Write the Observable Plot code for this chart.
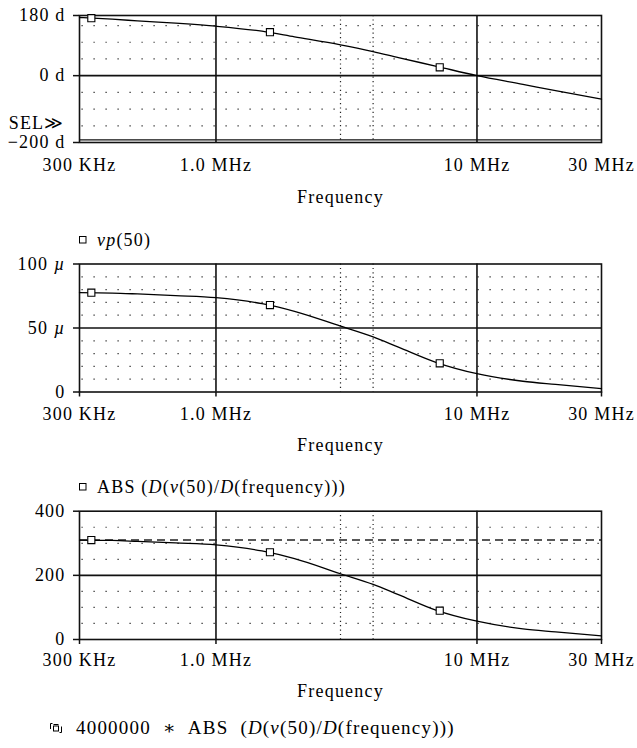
<!DOCTYPE html>
<html>
<head>
<meta charset="utf-8">
<script src="https://cdn.jsdelivr.net/npm/d3@7"></script>
<script src="https://cdn.jsdelivr.net/npm/@observablehq/plot@0.6"></script>
<style>
  html, body { margin: 0; padding: 0; background: #fff; }
  #root { position: relative; width: 637px; height: 748px; font-family: "Liberation Serif", "Times New Roman", "DejaVu Serif", serif; font-size: 18px; letter-spacing: 1.2px; color: #000; }
  .panel { position: absolute; left: 0; }
  .legend { position: absolute; height: 20px; line-height: 20px; white-space: nowrap; display: flex; align-items: center; }
  .legend svg { display: block; }
</style>
</head>
<body>
<div id="root">
  <div class="panel" id="p1" style="top:0px"></div>
  <div class="legend" style="top:230px;left:78px"><svg width="10" height="10"><rect x="1.5" y="1.5" width="6.5" height="6.5" fill="none" stroke="#000" stroke-width="1"/></svg><span style="margin-left:9px"><i>vp</i>(50)</span></div>
  <div class="panel" id="p2" style="top:250px"></div>
  <div class="legend" style="top:477px;left:78px"><svg width="10" height="10"><rect x="1.5" y="1.5" width="6.5" height="6.5" fill="none" stroke="#000" stroke-width="1"/></svg><span style="margin-left:9px">ABS (<i>D</i>(<i>v</i>(50)/<i>D</i>(frequency)))</span></div>
  <div class="panel" id="p3" style="top:497px"></div>
  <div class="legend" style="top:718px;left:49px"><svg width="14" height="12"><path d="M1.5,7 V1.5 H3.5 M12.5,4.5 V10.5 H10.5" fill="none" stroke="#000" stroke-width="1"/><rect x="4.5" y="4" width="5" height="5" fill="none" stroke="#000" stroke-width="1"/><path d="M4.5,2.5 H9.5" stroke="#000" stroke-width="1"/></svg><span style="margin-left:13px;font-size:19px;word-spacing:6px">4000000 ∗ ABS (<i>D</i>(<i>v</i>(50)/<i>D</i>(frequency)))</span></div>
</div>
<script>
// ---------- data ----------
const freqs = [3e5, 4e5, 5e5, 7e5, 1e6, 1.5e6, 2e6, 3e6, 4e6, 5e6, 7e6, 1e7, 1.5e7, 2e7, 3e7];
const phaseDeg = [174, 169, 164, 157, 148, 133, 116, 92, 72, 54, 28, 0, -26, -45, -70];
const vpMicro = [77.6, 77.3, 76.6, 75.3, 73.7, 69, 63, 51.4, 43, 35, 23, 14.3, 8.4, 5.9, 2.7];
const absDeriv = [310, 309, 306, 301, 295, 276, 252, 205, 172, 140, 91, 57, 33, 23.5, 11];

const markerFreqs = [3.33e5, 1.61e6, 7.2e6];
const phaseMarkers = [172, 130, 25];
const vpMarkers = [77.6, 67.9, 22.4];
const absMarkers = [310, 272, 90];

const dashedLevel = [310]; // 4000000 * ABS(...) trace

const xTickFreqs = [3e5, 1e6, 1e7, 3e7];
const xTickLabels = ["300 KHz", "1.0 MHz", "10 MHz", "30 MHz"];
const xMajorGrid = [1e6, 1e7];
const xCursorLines = [3e6, 4e6];
const xLabelAt = 3e6;

const phaseTicks = [180, 0, -200];
const phaseTickLabels = ["180 d", "0 d", "\u2212200 d"];
const phaseMinor = [150, 100, 50, -50, -100, -150];
const phaseMajor = [0];
const phaseSelLine = [-192];

const vpTicks = [100, 50, 0];
const vpTickLabels = ["100 µ", "50 µ", "0"];
const vpMinor = [90, 80, 70, 60, 40, 30, 20, 10];
const vpMajor = [50];

const absTicks = [400, 200, 0];
const absTickLabels = ["400", "200", "0"];
const absMinor = [350, 300, 250, 150, 100, 50];
const absMajor = [200];

// ---------- helpers ----------
const FONT = '"Liberation Serif", "Times New Roman", "DejaVu Serif", serif';
const rows = (vals, ys) => vals.map((x, i) => ({x, y: ys[i]}));

function panel({height, marginTop, marginBottom, yDomain, ticks, tickLabels, minor, major, series, markers, extra = [], xTicks = true, labelDy, freqDy}) {
  const labelMap = new Map(ticks.map((t, i) => [t, tickLabels[i]]));
  const marks = [
    Plot.ruleY(minor, {stroke: "#222", strokeWidth: 1.2, strokeDasharray: "1.2,10.8", strokeDashoffset: -2.5}),
    Plot.ruleX(xCursorLines, {stroke: "#222", strokeWidth: 1.2, strokeDasharray: "1.2,3.2"}),
    Plot.ruleY(major, {stroke: "#111", strokeWidth: 1.6}),
    Plot.ruleX(xMajorGrid, {stroke: "#111", strokeWidth: 1.6}),
    ...extra,
    Plot.frame({stroke: "#111", strokeWidth: 1.6}),
    Plot.axisY({ticks, tickFormat: d => labelMap.get(d), tickSize: 6, tickPadding: 8, stroke: "#111", strokeWidth: 1.5, fontSize: 18, label: null}),
    Plot.line(rows(freqs, series), {x: "x", y: "y", curve: "monotone-x", stroke: "#000", strokeWidth: 1.3}),
    Plot.dot(rows(markerFreqs, markers), {x: "x", y: "y", symbol: "square", r: 4, fill: "#fff", stroke: "#000", strokeWidth: 1.1}),
    Plot.text(xTickFreqs, {x: d => d, text: (d, i) => xTickLabels[i], frameAnchor: "bottom", dy: labelDy, lineAnchor: "middle", fontSize: 18}),
    Plot.text(["Frequency"], {x: xLabelAt, text: d => d, frameAnchor: "bottom", dy: freqDy, lineAnchor: "middle", fontSize: 18})
  ];
  if (xTicks) marks.push(Plot.axisX({ticks: xTickFreqs, tickSize: 5, tickFormat: () => "", stroke: "#111", strokeWidth: 1.5, label: null}));
  return Plot.plot({
    width: 637, height, marginLeft: 79, marginRight: 36, marginTop, marginBottom,
    style: {fontFamily: FONT, fontSize: "18px", letterSpacing: "1.2px", background: "#fff", color: "#000", overflow: "visible"},
    x: {type: "log", domain: [3e5, 3e7], axis: xTicks ? undefined : null},
    y: {domain: yDomain},
    marks
  });
}

const p1 = panel({
  height: 215, marginTop: 15, marginBottom: 73, yDomain: [-200, 180],
  ticks: phaseTicks, tickLabels: phaseTickLabels, minor: phaseMinor, major: phaseMajor,
  series: phaseDeg, markers: phaseMarkers, xTicks: false, labelDy: 23, freqDy: 55,
  extra: [
    Plot.ruleY(phaseSelLine, {stroke: "#111", strokeWidth: 1.4}),
    Plot.text(["SEL\u226B"], {text: d => d, frameAnchor: "bottom-left", dx: -15, dy: -19, textAnchor: "end", lineAnchor: "middle", fontSize: 18})
  ]
});
document.getElementById("p1").appendChild(p1);

const p2 = panel({
  height: 210, marginTop: 13.5, marginBottom: 68.5, yDomain: [0, 100],
  ticks: vpTicks, tickLabels: vpTickLabels, minor: vpMinor, major: vpMajor,
  series: vpMicro, markers: vpMarkers, labelDy: 22.5, freqDy: 53.5
});
document.getElementById("p2").appendChild(p2);

const p3 = panel({
  height: 210, marginTop: 13.7, marginBottom: 68, yDomain: [0, 400],
  ticks: absTicks, tickLabels: absTickLabels, minor: absMinor, major: absMajor,
  series: absDeriv, markers: absMarkers, labelDy: 21, freqDy: 52,
  extra: [Plot.ruleY(dashedLevel, {stroke: "#222", strokeWidth: 1.4, strokeDasharray: "8,5"})]
});
document.getElementById("p3").appendChild(p3);

// italic µ in the tick labels
p2.querySelectorAll("text").forEach(t => {
  const s = t.textContent;
  if (s.includes("µ") && t.children.length === 0) {
    const [a] = s.split("µ");
    t.textContent = "";
    const ns = "http://www.w3.org/2000/svg";
    const s1 = document.createElementNS(ns, "tspan"); s1.textContent = a;
    const s2 = document.createElementNS(ns, "tspan"); s2.textContent = "µ"; s2.setAttribute("font-style", "italic");
    t.appendChild(s1); t.appendChild(s2);
  }
});
</script>
</body>
</html>
